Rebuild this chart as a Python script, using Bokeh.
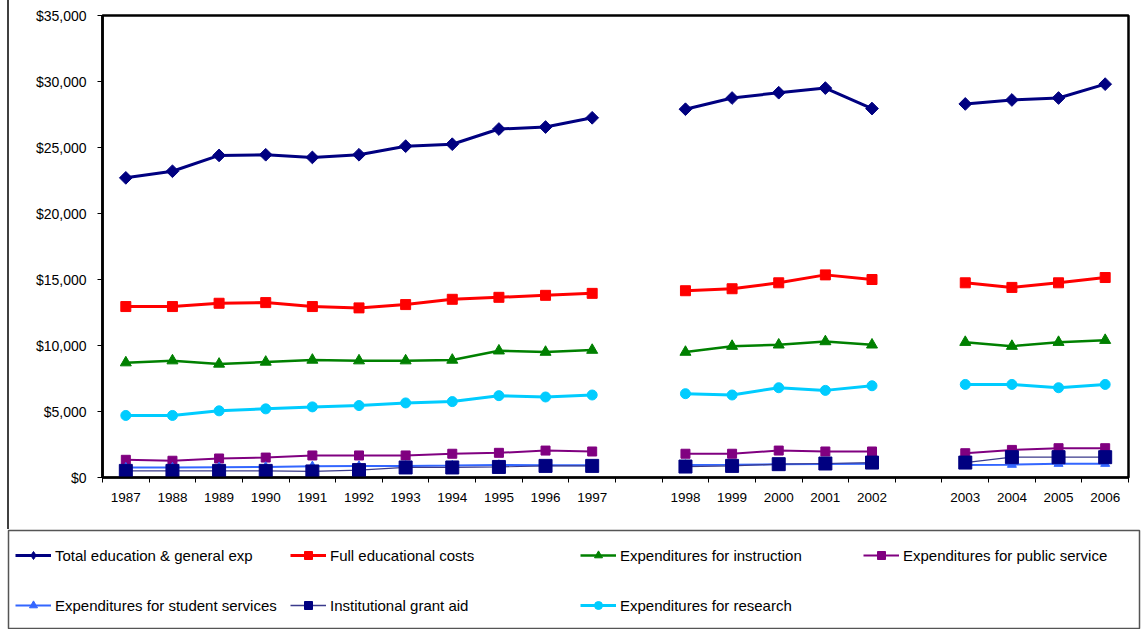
import math
from bokeh.plotting import figure
from bokeh.layouts import column
from bokeh.models import (Range1d, FixedTicker, NumeralTickFormatter, Legend, LegendItem,
                          ColumnDataSource)
from bokeh.embed import file_html
from bokeh.resources import INLINE

# ---------------- data ----------------
years = ["1987", "1988", "1989", "1990", "1991", "1992", "1993", "1994", "1995", "1996",
         "1997", "1998", "1999", "2000", "2001", "2002", "2003", "2004", "2005", "2006"]
break_after = ["1997", "2002"]  # an empty category slot follows these years

total_exp = [22700, 23200, 24400, 24450, 24250, 24450, 25100, 25250, 26400, 26550,
             27250, 27900, 28750, 29150, 29500, 27950, 28300, 28600, 28750, 29800]
full_costs = [12950, 12950, 13200, 13250, 12950, 12850, 13100, 13500, 13650, 13800,
              13950, 14150, 14300, 14750, 15350, 15000, 14750, 14400, 14750, 15150]
instruction = [8700, 8850, 8600, 8750, 8900, 8850, 8850, 8900, 9600, 9500,
               9650, 9500, 9950, 10050, 10300, 10050, 10250, 9950, 10250, 10400]
public_service = [1340, 1270, 1440, 1510, 1670, 1670, 1670, 1800, 1870, 2040,
                  1970, 1800, 1800, 2040, 1970, 1970, 1840, 2090, 2220, 2220]
student_services = [750, 750, 780, 800, 850, 870, 880, 900, 950, 920,
                    930, 950, 960, 1000, 1020, 1050, 950, 970, 1040, 1040]
grant_aid = [500, 500, 500, 500, 460, 560, 760, 760, 800, 880,
             880, 830, 880, 1010, 1060, 1130, 1130, 1540, 1540, 1540]
research = [4700, 4700, 5050, 5200, 5350, 5450, 5650, 5750, 6200, 6100,
            6250, 6350, 6250, 6800, 6600, 6950, 7050, 7050, 6800, 7050]

y_ticks = [0, 5000, 10000, 15000, 20000, 25000, 30000, 35000]

# ------------- category slot positions -------------
xpos = []
slot = 0
for yr in years:
    xpos.append(slot + 0.5)
    slot += 1
    if yr in break_after:
        slot += 1
n_slots = slot


def with_gaps(vals):
    xs, ys = [], []
    for yr, v, x in zip(years, vals, xpos):
        xs.append(x)
        ys.append(v)
        if yr in break_after:
            xs.append(float("nan"))
            ys.append(float("nan"))
    return dict(x=xs, y=ys)


FONT = "Liberation Sans"

p = figure(width=1143, height=529, output_backend="svg", toolbar_location=None,
           x_range=Range1d(0, n_slots), y_range=Range1d(y_ticks[0], y_ticks[-1]),
           min_border_left=102, min_border_right=15, min_border_top=15, min_border_bottom=52,
           background_fill_color="white", border_fill_alpha=0)
p.frame_align = False
p.styles = {"background": "linear-gradient(to right, #ffffff 7px, #404040 7px, "
                          "#404040 9px, #ffffff 9px)"}
p.grid.visible = False
p.outline_line_color = "black"
p.outline_line_width = 2.5

# x axis
p.xaxis.ticker = FixedTicker(ticks=xpos, minor_ticks=list(range(0, n_slots + 1)))
p.xaxis.major_label_overrides = {x: yr for x, yr in zip(xpos, years)}
p.xaxis.major_tick_line_color = None
p.xaxis.major_tick_out = 5
p.xaxis.major_tick_in = 0
p.xaxis.minor_tick_out = 5
p.xaxis.minor_tick_in = 0
p.xaxis.minor_tick_line_color = "black"
p.xaxis.axis_line_color = "black"
p.xaxis.axis_line_width = 2
p.xaxis.major_label_standoff = 10
p.xaxis.major_label_text_font = FONT
p.xaxis.major_label_text_font_size = "13.5px"
p.xaxis.major_label_text_color = "black"

# y axis
p.yaxis.ticker = FixedTicker(ticks=y_ticks)
p.yaxis.formatter = NumeralTickFormatter(format="$0,0")
p.yaxis.major_tick_out = 5
p.yaxis.major_tick_in = 0
p.yaxis.minor_tick_line_color = None
p.yaxis.major_tick_line_color = "black"
p.yaxis.axis_line_color = "black"
p.yaxis.axis_line_width = 2.5
p.yaxis.major_label_standoff = 11
p.yaxis.major_label_text_font = FONT
p.yaxis.major_label_text_font_size = "14px"
p.yaxis.major_label_text_color = "black"

# label, values, line colour, line width, marker, size, marker colour, angle, legend marker
series = [
    ("Total education & general exp", total_exp, "#000080", 3, "square", 9, "#000080", math.pi / 4, "diamond"),
    ("Full educational costs", full_costs, "#FF0000", 3, "square", 10, "#FF0000", 0, "square"),
    ("Expenditures for instruction", instruction, "#008000", 2.5, "triangle", 11, "#008000", 0, "triangle"),
    ("Expenditures for public service", public_service, "#800080", 2, "square", 9, "#800080", 0, "square"),
    ("Expenditures for student services", student_services, "#3366FF", 2, "triangle", 9, "#3366FF", 0, "triangle"),
    ("Institutional grant aid", grant_aid, "#3a3a8c", 1.2, "square", 13, "#000080", 0, "square"),
    ("Expenditures for research", research, "#00CCFF", 3, "circle", 10, "#00CCFF", 0, "circle"),
]

# legend panel (a separate figure below the chart, its outline is the legend box)
lp = figure(width=1143, height=100, output_backend="svg", toolbar_location=None,
            x_range=Range1d(0, 1), y_range=Range1d(0, 1),
            x_axis_type=None, y_axis_type=None,
            min_border_left=8, min_border_right=4, min_border_top=1, min_border_bottom=0,
            background_fill_color="white", border_fill_color="white")
lp.frame_align = False
lp.grid.visible = False
lp.outline_line_color = "#555555"
lp.outline_line_width = 1.5

items = []
for label, vals, lcol, lw, marker, size, mcol, ang, lmarker in series:
    lsrc = ColumnDataSource(with_gaps(vals))
    msrc = ColumnDataSource(dict(x=xpos, y=vals))
    p.line("x", "y", source=lsrc, line_color=lcol, line_width=lw)
    p.scatter("x", "y", source=msrc, marker=marker, size=size, angle=ang,
              fill_color=mcol, line_color=mcol)
    # legend swatches (style only, nothing is plotted: the coordinates are NaN)
    esrc = ColumnDataSource(dict(x=[float("nan")], y=[float("nan")]))
    g1 = lp.line("x", "y", source=esrc, line_color=lcol, line_width=max(lw, 1.5))
    g2 = lp.scatter("x", "y", source=esrc, marker=lmarker, size=size,
                    fill_color=mcol, line_color=mcol)
    items.append(LegendItem(label=label, renderers=[g1, g2]))

# legend: 4 columns x 2 rows
columns_idx = [[0, 4], [1, 5], [2, 6], [3]]
col_x = [7, 282, 572, 855]
for cols, cx in zip(columns_idx, col_x):
    y0 = 14 if len(cols) == 2 else 64
    lg = Legend(items=[items[i] for i in cols], location=(cx, y0), orientation="vertical",
                glyph_width=36, glyph_height=20, label_height=20, label_standoff=4,
                spacing=30, padding=0, margin=0, border_line_color=None,
                background_fill_alpha=0, label_text_font=FONT,
                label_text_font_size="15px", label_text_color="black")
    lp.add_layout(lg, "center")

layout = column(p, lp, spacing=0)
open("out.html", "w").write(file_html(layout, INLINE))
